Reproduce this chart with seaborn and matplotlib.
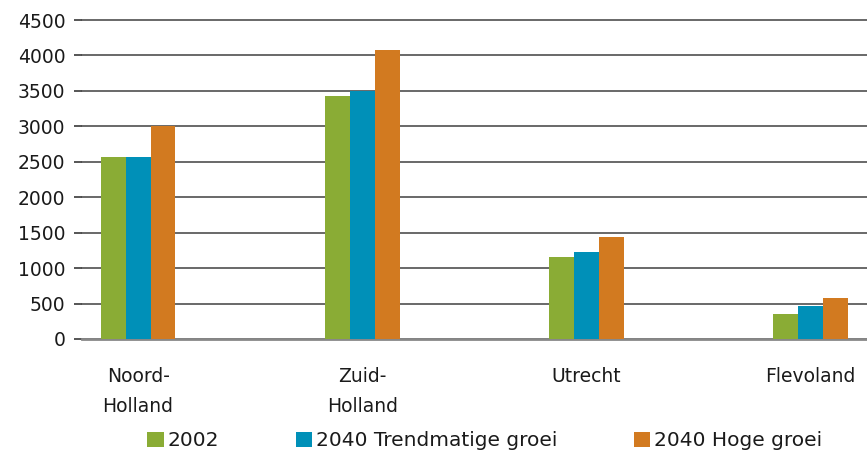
import pandas as pd
import matplotlib
matplotlib.use("Agg")
import matplotlib.pyplot as plt
import seaborn as sns

provinces = ["Noord-\nHolland", "Zuid-\nHolland", "Utrecht", "Flevoland"]
series = ["2002", "2040 Trendmatige groei", "2040 Hoge groei"]
v2002 = [2570, 3430, 1160, 350]
v_trend = [2570, 3500, 1230, 465]
v_hoog = [3000, 4080, 1440, 580]
colors = ["#8AAC35", "#0090B8", "#D27A20"]

df = pd.DataFrame({"Provincie": provinces * 3,
                   "Reeks": [s for s in series for _ in provinces],
                   "Waarde": v2002 + v_trend + v_hoog})

sns.set_theme(style="white")
plt.rcParams["font.family"] = ["DejaVu Sans"]

fig = plt.figure(figsize=(8.67, 4.55), dpi=100)
ax = fig.add_axes([0.0946, 0.255, 0.905, 0.701])
sns.barplot(data=df, x="Provincie", y="Waarde", hue="Reeks", palette=colors,
            width=0.333, gap=0, saturation=1, linewidth=0, ax=ax, zorder=3)

ax.set_xlim(-0.25, 3.25)
ax.set_ylim(0, 4500)
ax.set_yticks(range(0, 4501, 500))
ax.yaxis.grid(True, color="#404040", linewidth=1.1, zorder=0)
for gl in ax.get_ygridlines():
    gl.set_clip_on(False)
ax.set_axisbelow(True)
for s in ["top", "right", "left"]:
    ax.spines[s].set_visible(False)
ax.spines["bottom"].set_color("#888888")
ax.spines["bottom"].set_linewidth(2)
ax.tick_params(axis="y", left=True, length=6, color="#404040", labelcolor="#1a1a1a",
               labelsize=13.5, pad=6)
ax.tick_params(axis="x", bottom=False, labelcolor="#1a1a1a", labelsize=13.5, pad=14)
for lbl in ax.get_xticklabels():
    lbl.set_linespacing(1.75)
ax.set_xlabel("")
ax.set_ylabel("")

leg = ax.legend(loc="center", bbox_to_anchor=(0.559, 0.031), bbox_transform=fig.transFigure,
                ncol=3, frameon=False, fontsize=14.5, handlelength=0.8, handleheight=0.8,
                handletextpad=0.2, columnspacing=3.8)
for t in leg.get_texts():
    t.set_color("#1a1a1a")

fig.savefig("out.png", dpi=100)
